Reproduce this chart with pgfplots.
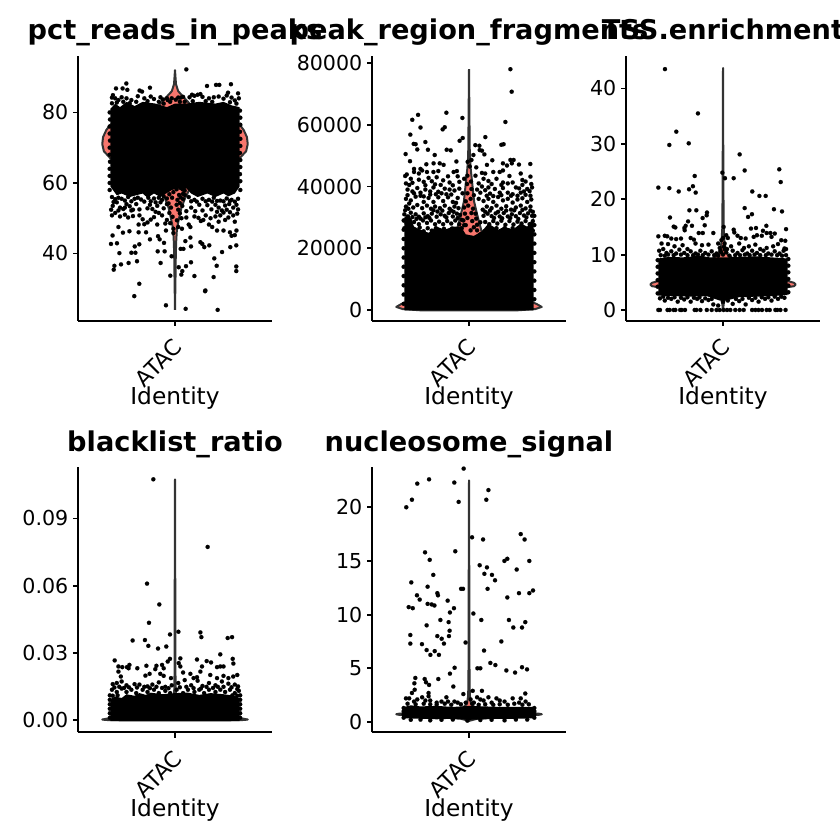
\documentclass[border=0pt]{standalone}
\usepackage{pgfplots}
\pgfplotsset{compat=1.18}
\usepackage{fontspec}
\setmainfont{DejaVu Sans}
\definecolor{vred}{HTML}{F8766D}
\definecolor{vgrey}{HTML}{333333}
\pgfplotsset{
  vln/.style={
    scale only axis, width=194pt,
    xmin=-0.6, xmax=0.6,
    axis x line*=bottom, axis y line*=left,
    axis line style={-, line width=2pt, black},
    tick align=outside, major tick length=5pt,
    tick style={line width=1.8pt, black},
    xtick={0}, xticklabels={ATAC},
    x tick label style={rotate=45, anchor=north east, font=\fontsize{22}{23}\selectfont, xshift=-10pt, yshift=-6pt, inner sep=0pt},
    y tick label style={font=\fontsize{20.6}{21}\selectfont, inner sep=0pt, xshift=-4.5pt},
    xlabel={Identity},
    xlabel style={at={(axis description cs:0.5,0)}, anchor=base, yshift=-83.5pt, font=\fontsize{23.3}{24}\selectfont, inner sep=0pt},
    title style={at={(axis description cs:0.5,1)}, anchor=base, yshift=10pt, font=\fontsize{27.2}{28}\selectfont\bfseries, inner sep=0pt},
    scaled y ticks=false,
  },
  vio/.style={fill=vred, draw=vgrey, line width=2pt, line join=round, mark=none},
  mass/.style={fill=black, draw=none, mark=none},
  pts/.style={only marks, mark=*, mark size=2.1pt, black, mark options={draw=black, fill=black, line width=0.1pt}},
}
\begin{document}
\begin{tikzpicture}[x=1pt,y=1pt]
\useasboundingbox (0,0) rectangle (840,840);

% ---------- pct_reads_in_peaks
\begin{axis}[vln, at={(78pt,519pt)}, height=265pt, ymin=20.85, ymax=96,
  title={pct\_reads\_in\_peaks}, ytick={40,60,80}, yticklabels={40,60,80}]
\addplot[vio] coordinates {(0,24)(.002,30)(.004,36)(.005,40)(.008,44)(.012,47)(.025,50)(.04,53)(.065,56)(.1,59)(.18,62)(.33,65)(.4,67)(.44,69)(.45,71)(.445,73)(.425,75)(.4,76.5)(.33,78)(.2,80)(.1,82)(.05,84.5)(.02,86)(.006,88)(.003,90)(0,92)(-.003,90)(-.006,88)(-.02,86)(-.05,84.5)(-.1,82)(-.2,80)(-.33,78)(-.4,76.5)(-.425,75)(-.445,73)(-.45,71)(-.44,69)(-.4,67)(-.33,65)(-.18,62)(-.1,59)(-.065,56)(-.04,53)(-.025,50)(-.012,47)(-.008,44)(-.005,40)(-.004,36)(-.002,30)(0,24)};
\addplot[mass] coordinates {(-.4,59)(-.4,81)(-.37,82.5)(-.34,81.5)(-.3,83)(-.25,81.8)(-.2,83)(-.12,82.5)(-.05,81.5)(0,82.5)(.07,82.5)(.15,83)(.25,82.5)(.3,83)(.35,82)(.4,81.5)(.4,59)(.37,57)(.33,56.2)(.3,57)(.25,56)(.2,57)(.14,56)(.1,57)(.07,58.5)(.045,57.5)(.02,58.5)(-.02,58)(-.055,57)(-.09,56)(-.13,57)(-.17,55.8)(-.2,57)(-.28,56)(-.33,57)(-.36,56.5)(-.4,59)};
\addplot[pts] coordinates {
(.07,92.2)(-.301,88.2)(-.365,86.8)(-.324,86.8)(-.295,86.4)(-.155,87)(.198,87.5)(.254,87.8)(.274,87.8)(.346,88)(-.219,86.2)(-.204,85.9)(-.384,84.9)(-.39,84.2)(.328,85.6)(.39,85.4)(.157,85.2)(.105,85)(.14,85)
(-.37,84)(-.35,83.5)(-.33,84.3)(-.3,84)(-.27,83.5)(-.23,84.6)(-.19,84)(-.15,84.5)(-.13,83.8)(-.09,84.3)(-.05,84)(.02,84.2)(.05,84.4)(.09,84.3)(.12,84.7)(.17,84.4)(.21,84)(.24,84.3)(.27,84.5)(.3,83.9)(.32,84.8)(.35,84.2)(.37,83.4)(.395,84)(.38,82.5)(-.39,82.6)
(-.36,82.8)(-.32,83)(-.28,82.6)(-.24,83)(-.17,83.2)(-.1,83)(-.07,82.5)(-.03,83)(.03,83)(.06,83)(.11,83.2)(.19,83.2)(.23,83)(.34,82.9)(-.045,83.5)(-.02,84)(.005,83.6)(.035,84.2)(-.075,83.7)
(.264,24)(.066,24.3)(-.056,25.3)(-.252,27.9)(-.221,31.4)(.188,29.5)(.186,29.3)(.239,33.3)(.12,33.6)(-.029,33.7)(.039,34)(.023,36.1)(.068,36.4)(.045,35)(-.379,35.4)(-.375,36.5)(-.334,36.9)(-.287,37.3)(-.235,37.8)(-.089,37.3)(.099,37.5)(.379,35)(.379,36.3)(.258,36.5)(.243,38.6)(-.021,39.2)(-.344,40.1)(-.27,40.2)(-.245,40.2)(-.107,40.6)(-.064,40.6)(.035,41.3)(.052,41.3)(-.249,42)(-.221,42.6)(-.396,42.7)(-.359,42.9)(.099,42)(.169,42.7)(.181,41.8)(.212,42.3)(.291,40.4)(.342,41.8)(.379,42.3)(-.386,45.1)(-.322,45.9)(-.282,46.3)(-.225,46)(-.179,46)(-.105,44.9)(-.155,44)(-.095,44)(-.068,43)(-.056,46.5)(-.01,45.8)(.043,47)(.095,44.5)(.064,43.5)(.157,43.2)(.26,46.5)(.3,46.5)(.34,46)(.38,46.5)(.35,45)(.37,45.2)(-.35,47.5)(-.225,48.2)(-.11,48.2)(-.17,48.8)(-.19,48.3)(-.06,48.5)(.085,48.2)(.095,47.5)(.21,48.2)(.23,47.5)(.27,49)(.31,49.5)(.37,49)
(-.39,50.8)(-.37,51.5)(-.34,50.5)(-.31,51)(-.29,50.2)(-.26,50.6)(-.22,50.8)(-.2,49.7)(-.15,49.6)(-.13,50.3)(-.1,51.5)(-.05,49.5)(.04,50)(.07,50.2)(.12,50.5)(.145,50.1)(.16,49.2)(.175,49.5)(.19,50.8)(.22,50)(.25,50.5)(.28,50.8)(.3,51.6)(.33,50.2)(.36,50.8)(.385,51.3)
(-.385,53.5)(-.36,54.5)(-.34,53)(-.32,52.6)(-.3,54)(-.28,53.4)(-.26,52.4)(-.24,54)(-.22,52.5)(-.17,52.8)(-.155,53.8)(-.14,52.6)(-.11,53.5)(-.09,54.5)(-.07,52.8)(.045,53.5)(.07,52)(.1,53)(.125,52)(.15,53.8)(.17,52.2)(.2,53.7)(.225,52.5)(.25,53.8)(.27,53)(.29,52.2)(.31,53.6)(.335,54)(.36,53)(.38,53.8)
(-.39,56)(-.37,55.4)(-.33,55.5)(-.29,56)(-.25,55.5)(-.21,55.3)(-.165,55.8)(-.13,55.6)(-.1,55.8)(-.07,56.2)(.05,55.4)(.085,56)(.12,55.2)(.17,55.5)(.21,55.2)(.24,55.8)(.28,55)(.32,55.6)(.35,55.2)(.39,55.5)
(-.38,54.6)(-.35,55.8)(-.31,55)(-.27,54.8)(-.23,55.8)(-.19,54.7)(-.15,54.8)(-.12,54.5)(-.08,55.2)(-.05,54)(.06,56.6)(.1,54.8)(.135,54.7)(.19,54.8)(.23,54.7)(.26,54.9)(.3,54.8)(.34,54.9)(.37,54.7)(-.35,52.2)(-.31,53)(-.27,52.2)(-.12,51.8)(-.08,50.8)(.26,51.8)(.32,52.4)(.34,51.7)(.39,52.5)(-.395,52.4)
(-.045,58)(-.02,58.8)(.01,58.2)(.035,58.6)(.06,57.8)(-.035,56.8)(-.01,57.4)(.025,56.6)(.05,56.9)(-.05,55.6)(-.018,55.8)(.015,55.2)(.035,55.9)(-.04,54.2)(.01,53.8)(.03,54.3)(-.025,53)(.02,52.4)(-.035,51.5)(.03,51.4)(-.015,50.4)(.012,49.4)(-.03,48.6)(.02,47.5)(-.01,47)
(-.404,60)(-.404,62)(-.404,64)(-.402,66)(-.404,68)(-.404,70)(-.402,72)(-.404,74)(-.404,76)(-.402,78)(-.404,80)(-.404,58)(.404,58)(.404,60.5)(.402,62.5)(.404,64.5)(.404,66.5)(.402,68.5)(.404,70.5)(.404,72.5)(.402,74.5)(.404,76.5)(.404,78.5)(.402,80.5)
};
\end{axis}

% ---------- peak_region_fragments
\begin{axis}[vln, at={(372pt,519pt)}, height=265pt, ymin=-3560, ymax=82270,
  title={peak\_region\_fragments}, ytick={0,20000,40000,60000,80000}, yticklabels={0,20000,40000,60000,80000}]
\addplot[vio] coordinates {(0,78000)(.003,60000)(.005,50000)(.01,46000)(.022,40000)(.032,35000)(.05,31000)(.08,25000)(.12,20000)(.2,15000)(.26,10000)(.32,6000)(.38,2800)(.42,1900)(.45,1000)(.41,300)(.3,-100)(-.3,-100)(-.41,300)(-.45,1000)(-.42,1900)(-.38,2800)(-.32,6000)(-.26,10000)(-.2,15000)(-.12,20000)(-.08,25000)(-.05,31000)(-.032,35000)(-.022,40000)(-.01,46000)(-.005,50000)(-.003,60000)(0,78000)};
\addplot[mass] coordinates {(-.4,-100)(-.4,30000)(-.37,31000)(-.34,27000)(-.3,26000)(-.25,25000)(-.2,27000)(-.15,26000)(-.1,27000)(-.05,27000)(-.02,24500)(.03,24000)(.08,25500)(.12,28000)(.18,26000)(.22,27000)(.27,26000)(.32,28000)(.36,27000)(.4,30000)(.4,-100)};
\addplot[pts] coordinates {
(.256,78000)(.264,70700)(.225,60900)(-.351,61600)(-.315,63200)(-.14,63900)(-.041,62200)(-.3,59100)(-.15,59200)(-.163,58500)(-.363,56800)(-.039,55700)(-.058,54800)(.101,56000)(-.27,54400)(-.342,53800)(-.33,53700)(.039,53400)(.064,53200)(.2,53500)(.214,53700)(.066,51800)(.08,51600)(-.254,51900)(-.32,52000)(-.138,51900)(-.113,51700)(-.392,50500)(-.212,50200)(.027,50200)(.095,50400)(-.365,48200)(.144,48500)(-.078,48100)(-.219,47500)(-.181,47500)(-.157,47000)(-.264,47200)(.21,47500)(.256,48600)(.276,48600)(.309,47100)(.379,47300)(.235,46800)(.045,46200)(.111,47000)(.265,47500)
(.15,44700)(.19,44700)(.21,45200)(.08,44400)(.1,44200)(.04,43500)(-.34,45700)(-.3,45700)(-.26,44700)(-.22,44700)(-.19,45000)(-.13,43300)(-.095,44700)(-.075,45000)(-.385,43900)(-.395,43400)(-.34,44700)(-.31,44200)(-.29,45200)(.32,44200)(.38,43200)(.35,41600)(.33,42100)(.385,40800)(.25,43400)(.27,41300)(.21,41300)
(-.39,41000)(-.37,40500)(-.35,41200)(-.31,42200)(-.28,41500)(-.25,42800)(-.23,41700)(-.2,43000)(-.16,42000)(-.12,41300)(-.07,43300)(-.06,41500)(-.03,42500)(.06,41000)(.09,42500)(.12,41800)(.17,42500)(.14,40800)(.29,39700)(.31,39400)(.36,39200)(.39,39700)
(-.38,39000)(-.35,38400)(-.32,39500)(-.3,38000)(-.27,39000)(-.24,38400)(-.22,39700)(-.19,38300)(-.15,39300)(-.12,39000)(-.09,38700)(-.06,39300)(-.04,37800)(.05,39000)(.07,38000)(.1,38800)(.13,37700)(.16,39200)(.19,38000)(.21,39500)(.24,38000)(.27,37500)(.32,38000)(.35,37300)(.38,37000)
(-.39,36000)(-.36,35500)(-.33,36700)(-.3,37000)(-.28,35000)(-.25,36300)(-.22,35000)(-.19,36500)(-.16,35300)(-.13,36500)(-.1,35000)(-.07,36300)(.06,36000)(.09,35300)(.12,36000)(.15,35000)(.18,36600)(.21,35500)(.24,36000)(.27,34800)(.3,35800)(.33,36200)(.36,35000)(.385,35800)
(-.39,33500)(-.37,34500)(-.345,33200)(-.32,34000)(-.29,33000)(-.26,33800)(-.235,32800)(-.21,33500)(-.18,33000)(-.15,33800)(-.12,32800)(-.09,33500)(-.065,33000)(.085,32500)(.11,33500)(.14,33000)(.17,33800)(.2,32800)(.23,33600)(.26,32500)(.29,33200)(.32,33800)(.35,32900)(.38,33500)
(-.4,31000)(-.38,30300)(-.36,31500)(-.33,31000)(-.31,30200)(-.28,31300)(-.255,30400)(-.23,31200)(-.2,30200)(-.175,31000)(-.15,30500)(-.125,31400)(-.1,30300)(-.075,31200)(.09,30500)(.115,31200)(.14,30400)(.165,31300)(.19,30300)(.215,31400)(.24,30300)(.265,31000)(.29,30400)(.315,31400)(.34,30600)(.365,31300)(.39,30500)
(-.4,29000)(-.385,28000)(-.365,29000)(-.34,28500)(-.31,27800)(-.285,29000)(-.26,28200)(-.235,29000)(-.21,27800)(-.185,28600)(-.16,27800)(-.135,28800)(-.11,28000)(-.085,29000)(-.06,27800)(.1,28500)(.125,27800)(.15,28800)(.175,28000)(.2,28900)(.225,27600)(.25,28800)(.275,27700)(.3,28600)(.325,28000)(.35,28800)(.375,27800)(.395,28800)
(-.4,26500)(-.38,25500)(-.355,26500)(-.33,25800)(-.305,26700)(-.28,25500)(-.255,26500)(-.23,25700)(-.205,26500)(-.18,25500)(-.155,26300)(-.13,25500)(-.105,26400)(-.08,25400)(-.055,24000)(.07,24500)(.095,25500)(.12,26300)(.145,25400)(.17,26500)(.195,25500)(.22,26500)(.245,25800)(.27,26500)(.295,25700)(.32,26500)(.345,25500)(.37,26400)(.395,25700)
(-.395,32300)(-.375,32800)(-.35,30100)(-.325,29500)(-.3,29600)(-.27,30000)(-.245,29800)(-.22,32300)(-.195,31900)(-.165,32200)(-.14,30000)(-.11,32200)(-.095,31800)(-.07,29800)(-.045,29200)(-.03,27500)(.05,27600)(.07,28400)(.1,31800)(.13,32200)(.155,29800)(.18,31800)(.205,29700)(.23,32200)(.255,29800)(.28,32300)(.305,29500)(.33,32400)(.355,30000)(.38,32200)(.395,31800)
(-.38,37200)(-.34,37800)(-.28,36800)(-.24,37400)(-.205,37500)(-.17,37800)(-.14,37500)(-.11,37400)(-.08,34700)(.11,37000)(.15,36900)(.2,37200)(.26,37000)(.3,37000)(.34,38400)(.375,38500)(-.36,42500)(-.27,40400)(-.21,40700)(-.175,40500)(-.1,40400)(.08,40000)(.12,39700)(.2,40500)(.24,41000)(.33,40500)
(-.045,26500)(-.02,27500)(.01,25800)(.03,26800)(.05,25800)(-.035,29000)(-.01,29800)(.02,28800)(.045,29600)(-.055,30800)(-.025,31200)(.015,31400)(.04,31200)(-.03,33200)(-.005,33800)(.025,32800)(-.02,35200)(.01,36000)(.03,37200)(-.01,37800)(.015,39200)(-.012,40800)(.012,41600)(-.01,43500)(.005,46500)(-.008,48000)(.015,48600)
(-.404,2000)(-.404,5000)(-.404,8000)(-.404,11000)(-.404,14000)(-.404,17000)(-.404,20000)(-.404,23000)(-.404,26000)(-.404,29000)(.404,3500)(.404,6500)(.404,9500)(.404,12500)(.404,15500)(.404,18500)(.404,21500)(.404,24500)(.404,27500)(.404,30500)
};
\end{axis}

% ---------- TSS.enrichment
\begin{axis}[vln, at={(626pt,519pt)}, height=265pt, ymin=-1.99, ymax=45.87,
  title={TSS.enrichment}, ytick={0,10,20,30,40}, yticklabels={0,10,20,30,40}]
\addplot[vio] coordinates {(0,0)(.004,1)(.01,2)(.06,3)(.35,3.9)(.44,4.3)(.45,4.6)(.44,4.9)(.38,5.4)(.3,6.5)(.2,7.5)(.1,8.5)(.03,10)(.018,11)(.01,12)(.004,15)(.002,25)(0,43.7)(-.002,25)(-.004,15)(-.01,12)(-.018,11)(-.03,10)(-.1,8.5)(-.2,7.5)(-.3,6.5)(-.38,5.4)(-.44,4.9)(-.45,4.6)(-.44,4.3)(-.35,3.9)(-.06,3)(-.01,2)(-.004,1)(0,0)};
\addplot[mass] coordinates {(-.4,2.6)(-.4,9.3)(-.33,9.6)(-.25,9.5)(-.15,9.8)(-.08,9.5)(-.02,9.5)(.02,9.5)(.1,9.6)(.2,9.7)(.3,9.5)(.4,9.3)(.4,2.7)(.3,2.5)(.2,2.4)(.1,2.3)(.02,1.7)(-.02,1.7)(-.1,2.5)(-.2,2.4)(-.3,2.5)};
\addplot[pts] coordinates {
(-.359,43.5)(-.155,35.5)(-.289,32.2)(-.332,29.8)(-.212,30.1)(.103,28.1)(-.004,24.8)(-.175,24.2)(.134,25.2)(.348,25.4)(.357,23.1)(.012,23.8)(.066,23.8)(-.4,22.1)(-.332,22)(-.186,22.35)(-.21,21.8)(-.274,21.4)(-.169,21.2)(.181,21.4)(.225,20.6)(.264,20.6)(.134,18.4)(-.208,18)(-.165,18)(.315,18.2)(.365,17.8)(.179,17.3)(-.099,17.6)(-.101,17.1)(-.126,16.6)(-.328,16.7)(.155,16.8)(-.216,16)(-.192,15.2)(-.231,15.2)(-.305,15.05)(-.295,14.9)(-.239,14.8)(.004,15)(.268,15.2)(.39,14.6)(.173,14.7)(.204,14.8)(.066,14.5)(.247,14.3)(.293,13.9)(-.237,14.4)(-.113,15.3)
(-.4,13.3)(-.36,13.4)(-.345,13.3)(-.32,12.9)(-.29,12.8)(-.26,12.9)(-.2,13)(-.18,12.7)(-.15,13.9)(-.125,13.9)(-.06,13.9)(.02,13.5)(.03,13)(.07,14)(.09,13.4)(.11,13)(.14,12.9)(.19,13.2)(.21,13.5)(.24,13.4)(.27,13.9)(.3,13.2)(.32,13.8)(.36,12.6)(.385,12.5)
(-.38,12)(-.34,11.9)(-.3,11.5)(-.25,11.7)(-.22,11)(-.17,12)(-.13,11.7)(-.09,11.8)(-.03,12)(-.01,12.6)(.01,12)(.05,11.5)(.1,12)(.13,11.2)(.16,11.5)(.2,11.8)(.23,11)(.27,11.2)(.31,11.5)(.34,11.9)(.38,11.1)(.39,11)
(-.395,10.7)(-.37,11)(-.35,10.3)(-.32,10.6)(-.29,10.2)(-.27,10.9)(-.24,10.3)(-.2,10.6)(-.17,10.2)(-.14,10.7)(-.11,10.3)(-.07,10.6)(-.04,10.2)(-.015,10.7)(.02,10.4)(.06,10.7)(.09,10.3)(.12,10.8)(.15,10.2)(.18,10.7)(.21,10.3)(.25,10.7)(.28,10.2)(.32,10.6)(.35,10.2)(.375,10.7)
(-.385,9.9)(-.36,9.8)(-.34,10)(-.305,9.9)(-.26,10)(-.22,9.9)(-.185,9.9)(-.155,10)(-.125,9.9)(-.09,10)(-.055,9.9)(-.03,9.8)(0,10)(.04,9.8)(.075,9.9)(.105,9.9)(.135,10)(.165,9.9)(.195,10)(.23,9.9)(.265,9.9)(.3,10)(.335,9.9)(.365,9.8)(.39,9.9)
(-.02,11.2)(.005,11.4)(.025,11)(-.012,10.4)(.012,10.9)(0,13)
(-.4,0)(-.39,0)(-.343,0)(-.33,0)(-.305,0)(-.295,0)(-.265,0)(-.255,0)(-.235,0)(-.175,0)(-.165,0)(-.14,0)(-.1,0)(-.07,0)(-.04,0)(-.02,0)(.004,0)(.025,0)(.045,0)(.076,0)(.103,0)(.128,0)(.18,0)(.2,0)(.22,0)(.241,0)(.27,0)(.289,0)(.324,0)(.335,0)(.355,0)(.387,0)
(-.404,3)(-.404,4.2)(-.404,5.4)(-.404,6.6)(-.404,7.8)(-.404,9)(.404,3.2)(.404,4.4)(.404,5.6)(.404,6.8)(.404,8)(.404,9.2)
(-.39,2.1)(-.36,1.7)(-.32,2)(-.28,1.5)(-.24,1.9)(-.2,1.5)(-.16,2)(-.13,1.6)(-.09,1.8)(-.06,1)(-.03,.8)(0,1.5)(.03,1.7)(.06,1.1)(.1,1.6)(.14,1)(.18,1.8)(.22,1.5)(.26,2)(.3,1.7)(.34,2)(.38,2.2)
(-.37,2.4)(-.34,2.2)(-.3,2.3)(-.26,2.2)(-.22,2.3)(-.18,2.2)(-.145,2.3)(-.11,2.1)(-.07,2)(.08,2)(.12,2)(.16,2.2)(.2,2.2)(.24,2.3)(.28,2.3)(.32,2.4)(.36,2.4)
};
\end{axis}

% ---------- blacklist_ratio
\begin{axis}[vln, at={(78pt,107.5pt)}, height=265.5pt, ymin=-0.0056, ymax=0.1130,
  title={blacklist\_ratio}, title style={yshift=-0.5pt}, ytick={0,0.03,0.06,0.09}, yticklabels={0.00,0.03,0.06,0.09}]
\addplot[vio] coordinates {(.3,-.0002)(.43,0)(.45,.0002)(.42,.0006)(.3,.001)(.1,.0018)(.03,.004)(.012,.008)(.005,.012)(.003,.02)(.002,.05)(0,.1075)(-.002,.05)(-.003,.02)(-.005,.012)(-.012,.008)(-.03,.004)(-.1,.0018)(-.3,.001)(-.42,.0006)(-.45,.0002)(-.43,0)(-.3,-.0002)(.3,-.0002)};
\addplot[mass] coordinates {(-.4,-.0005)(-.4,.0092)(-.37,.0105)(-.33,.0098)(-.3,.0115)(-.25,.0108)(-.22,.012)(-.18,.0112)(-.15,.0122)(-.08,.0115)(0,.012)(.08,.0122)(.15,.0112)(.22,.012)(.3,.0115)(.37,.0108)(.4,.0095)(.4,-.0005)};
\addplot[pts] coordinates {
(-.134,.1075)(.202,.0773)(-.173,.0609)(-.097,.0516)(-.161,.0434)(.021,.0394)(.157,.0391)(.163,.037)(-.031,.0382)(-.262,.0355)(-.186,.0357)(-.165,.0331)(-.105,.0319)(-.054,.0328)(.326,.0366)(.353,.037)(.28,.0293)(-.373,.0266)(-.031,.0273)(.033,.0275)(-.045,.0261)(.136,.027)(.196,.0263)(.223,.0257)(.357,.0273)(.361,.0252)
(-.35,.0239)(-.326,.0236)(-.297,.0236)(-.282,.0246)(-.287,.0231)(-.233,.0231)(-.177,.0242)(-.115,.0242)(-.122,.0227)(-.08,.0246)(-.07,.0231)(.023,.0254)(.033,.0239)(.05,.0212)(.167,.0239)(.157,.0216)(.26,.0236)(.28,.0239)(.3,.0239)(-.35,.0216)(-.335,.0194)(-.183,.0198)(-.157,.0206)(-.091,.0206)(-.07,.0197)(-.025,.0187)(.095,.0206)(.115,.0187)(.136,.0191)(.218,.0201)(.26,.0187)(.3,.0197)(.33,.0187)(.36,.0194)(.385,.0201)
(-.385,.016)(-.36,.0165)(-.33,.0172)(-.3,.0155)(-.25,.016)(-.22,.0158)(-.17,.015)(-.14,.0158)(-.1,.0168)(-.06,.0148)(-.02,.0155)(.02,.0165)(.06,.0178)(.1,.0155)(.14,.0175)(.17,.0152)(.21,.0165)(.25,.0155)(.29,.0172)(.33,.0162)(.37,.0158)(.39,.015)
(-.39,.0135)(-.36,.0125)(-.33,.014)(-.3,.0125)(-.27,.0135)(-.24,.012)(-.2,.0135)(-.17,.0125)(-.13,.0135)(-.1,.012)(-.06,.013)(-.03,.012)(.01,.0135)(.05,.012)(.08,.0135)(.12,.0125)(.15,.0135)(.18,.012)(.21,.0135)(.25,.0125)(.28,.0135)(.31,.0125)(.34,.0135)(.37,.012)(.395,.013)
(-.375,.0145)(-.345,.0148)(-.315,.0143)(-.285,.0146)(-.235,.0145)(-.19,.0148)(-.155,.0142)(-.115,.0148)(-.08,.0143)(-.04,.0142)(.03,.0146)(.07,.0148)(.115,.0142)(.16,.014)(.195,.0148)(.235,.0143)(.265,.0148)(.3,.0148)(.35,.0146)(.385,.0138)
(-.403,.001)(-.403,.003)(-.403,.005)(-.403,.007)(-.403,.009)(.403,.001)(.403,.003)(.403,.005)(.403,.007)(.403,.009)(-.403,.011)(.403,.011)
(-.385,.0108)(-.355,.011)(.355,.011)(.385,.0108)
};
\end{axis}

% ---------- nucleosome_signal
\begin{axis}[vln, at={(372pt,107.5pt)}, height=265.5pt, ymin=-0.98, ymax=23.75,
  title={nucleosome\_signal}, title style={yshift=-0.5pt}, ytick={0,5,10,15,20}, yticklabels={0,5,10,15,20}]
\addplot[vio] coordinates {(0,.1)(.05,.3)(.3,.58)(.43,.66)(.45,.72)(.43,.78)(.3,.88)(.04,1.3)(.012,1.7)(.005,2.5)(.003,5)(.002,12)(0,22.5)(-.002,12)(-.003,5)(-.005,2.5)(-.012,1.7)(-.04,1.3)(-.3,.88)(-.43,.78)(-.45,.72)(-.43,.66)(-.3,.58)(-.05,.3)(0,.1)};
\addplot[mass] coordinates {(-.4,.35)(-.4,1.4)(-.36,1.55)(-.3,1.45)(-.2,1.5)(-.1,1.4)(0,1.5)(.1,1.45)(.2,1.4)(.3,1.4)(.4,1.4)(.4,.35)(.3,.3)(.2,.3)(.1,.25)(0,.2)(-.1,.3)(-.2,.25)(-.3,.3)};
\addplot[pts] coordinates {
(-.388,20)(-.353,20.7)(-.32,22.2)(-.247,22.6)(-.091,22.3)(-.064,20.5)(-.033,23.6)(.12,21.6)(.107,20.7)(.32,17.5)(.344,17)(.019,17.2)(.087,17)(-.272,15.8)(-.243,15.1)(-.085,15.9)(.066,14.6)(.111,14.4)(.095,13.8)(.142,13.7)(.161,13.2)(.115,12.4)(.237,15.2)(.219,15)(.295,14.2)(.373,15)(-.357,13)(-.256,12.6)(-.221,13.7)(-.322,11.8)(-.305,11.4)(-.196,12)(-.192,11.8)(-.132,11.3)(-.049,12.4)(-.037,12.4)(.309,12)(.237,11.6)(.373,12)(.396,12.25)(-.373,10.7)(-.348,10.6)(-.256,11)(-.231,10.95)(-.214,10.85)(-.093,10.6)(-.118,10.2)(.027,10.1)(.076,9.5)(-.177,9.5)(-.126,9.3)(-.262,9)(.247,9.5)(.274,8.8)(.328,8.8)(.348,9.3)(-.363,8.1)(-.196,8)(-.169,7.75)(-.12,8.5)(-.124,8)(-.363,7.3)(-.291,7.25)(-.155,7.3)(-.021,7.4)(.2,7.5)(-.262,6.7)(-.212,6.6)(-.239,6.25)(-.186,6.25)(.093,6.65)(.132,5.5)(.163,5.3)(.052,5)(.07,5)(-.089,5.05)(-.118,4.5)(.231,4.8)(.285,4.6)(.328,5.1)(.359,4.9)(-.332,4.1)(-.274,4)(-.19,4)(-.266,3.7)(-.247,3.45)(-.338,3.6)(-.097,3.3)(-.336,3)(-.353,2.7)(-.25,2.7)(-.035,2.6)(.023,2.9)(.08,2.9)(.348,2.65)
(-.39,2.2)(-.37,2.2)(-.34,1.9)(-.32,2.1)(-.29,2.3)(-.27,2)(-.25,2.4)(-.24,2)(-.2,1.8)(-.17,1.9)(-.14,2.3)(-.13,1.9)(-.09,1.9)(-.07,1.8)(-.02,1.8)(.01,2.1)(.03,1.8)(.05,2.3)(.07,2.1)(.09,2)(.12,2.3)(.14,1.8)(.17,2.2)(.19,2)(.22,1.9)(.27,2.2)(.31,1.8)(.32,2.2)(.35,1.9)
(-.38,1.7)(-.33,1.65)(-.28,1.7)(-.24,1.65)(-.2,1.6)(-.15,1.7)(-.11,1.6)(-.05,1.65)(.02,1.7)(.06,1.6)(.1,1.65)(.15,1.6)(.19,1.65)(.24,1.6)(.28,1.7)(.33,1.6)(.37,1.65)
(-.404,.4)(-.404,.7)(-.404,1)(-.404,1.3)(.404,.4)(.404,.7)(.404,1)(.404,1.3)
(-.36,.2)(-.3,.22)(-.24,.15)(-.17,.2)(-.1,.22)(-.01,.12)(.07,.18)(.14,.2)(.22,.15)(.29,.22)(.36,.22)
};
\end{axis}
\end{tikzpicture}
\end{document}
